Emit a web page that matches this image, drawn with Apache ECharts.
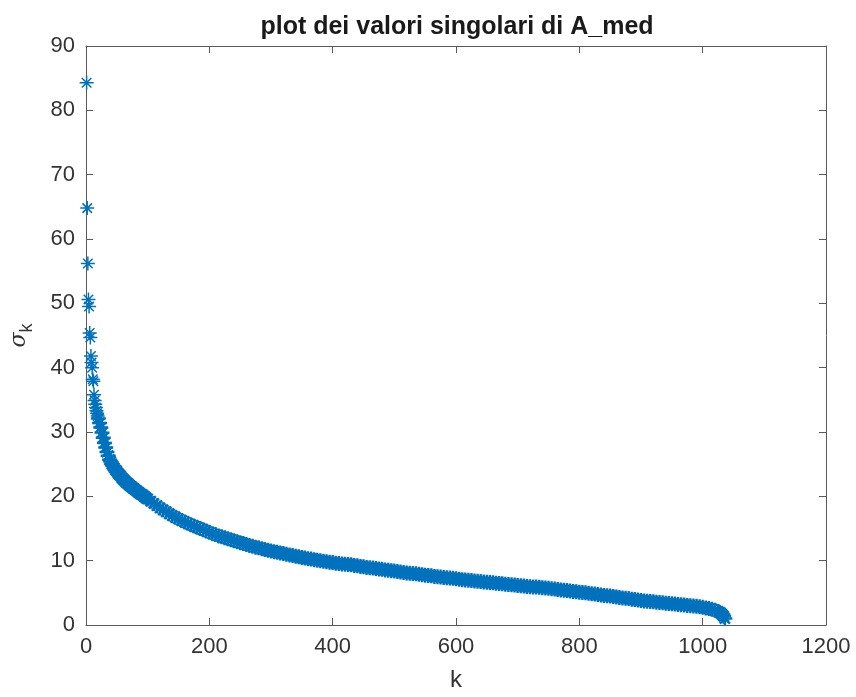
<!DOCTYPE html>
<html>
<head>
<meta charset="utf-8">
<script src="https://cdn.jsdelivr.net/npm/echarts@6/dist/echarts.min.js"></script>
<style>
  html, body { margin: 0; padding: 0; background: #fff; }
  #main { width: 856px; height: 697px; }
</style>
</head>
<body>
<div id="main"></div>
<script>
// indici k e valori singolari sigma_k
var kValues = [
  1, 2, 3, 4, 5, 6, 7, 8, 9, 10, 11, 12, 13, 14, 15, 16, 17, 18, 19,
  20, 22, 24, 26, 28, 30, 32, 34, 36, 38, 40, 42, 44, 46, 48, 50, 52, 54, 56, 58,
  60, 62, 64, 66, 68, 70, 72, 74, 76, 78, 80, 82, 84, 86, 88, 90, 92, 94, 96, 98,
  100, 105, 110, 115, 120, 125, 130, 135, 140, 145, 150, 155, 160, 165, 170, 175, 180, 185, 190, 195,
  200, 205, 210, 215, 220, 225, 230, 235, 240, 245, 250, 255, 260, 265, 270, 275, 280, 285, 290, 295,
  300, 305, 310, 315, 320, 325, 330, 335, 340, 345, 350, 355, 360, 365, 370, 375, 380, 385, 390, 395,
  400, 405, 410, 415, 420, 425, 430, 435, 440, 445, 450, 455, 460, 465, 470, 475, 480, 485, 490, 495,
  500, 505, 510, 515, 520, 525, 530, 535, 540, 545, 550, 555, 560, 565, 570, 575, 580, 585, 590, 595,
  600, 605, 610, 615, 620, 625, 630, 635, 640, 645, 650, 655, 660, 665, 670, 675, 680, 685, 690, 695,
  700, 705, 710, 715, 720, 725, 730, 735, 740, 745, 750, 755, 760, 765, 770, 775, 780, 785, 790, 795,
  800, 805, 810, 815, 820, 825, 830, 835, 840, 845, 850, 855, 860, 865, 870, 875, 880, 885, 890, 895,
  900, 905, 910, 915, 920, 925, 930, 935, 940, 945, 950, 955, 960, 965, 970, 975, 980, 985, 990, 995,
  1000, 1005, 1010, 1015, 1020, 1025, 1028, 1030, 1032, 1034, 1036
];
var sigmaValues = [
  84.3, 64.8, 56.2, 50.6, 49.5, 45.4, 44.7, 41.8, 40.8, 40.0, 38.2, 37.9, 35.8, 34.9, 34.3, 33.8, 33.3, 32.9, 32.5,
  32.1, 31.4, 30.7, 29.9, 29.1, 28.3, 27.6, 26.9, 26.3, 25.7, 25.4, 25.0, 24.7, 24.4, 24.1, 23.9, 23.6, 23.4, 23.2, 22.9,
  22.7, 22.5, 22.3, 22.1, 22.0, 21.8, 21.6, 21.5, 21.3, 21.2, 21.0, 20.9, 20.7, 20.6, 20.4, 20.3, 20.2, 20.0, 19.9, 19.7,
  19.6, 19.25, 18.9, 18.55, 18.2, 17.9, 17.6, 17.3, 17.0, 16.75, 16.5, 16.25, 16.0, 15.8, 15.6, 15.4, 15.2, 15.0, 14.8, 14.6,
  14.4, 14.2, 14.05, 13.85, 13.7, 13.55, 13.4, 13.25, 13.1, 12.95, 12.8, 12.65, 12.5, 12.35, 12.25, 12.1, 12.0, 11.85, 11.75, 11.6,
  11.5, 11.4, 11.3, 11.2, 11.1, 11.0, 10.9, 10.8, 10.7, 10.6, 10.5, 10.4, 10.3, 10.25, 10.15, 10.05, 10.0, 9.9, 9.85, 9.75,
  9.7, 9.6, 9.55, 9.5, 9.45, 9.4, 9.35, 9.25, 9.2, 9.1, 9.05, 8.95, 8.9, 8.85, 8.8, 8.7, 8.65, 8.55, 8.5, 8.45,
  8.4, 8.3, 8.25, 8.15, 8.1, 8.05, 8.0, 7.95, 7.9, 7.8, 7.75, 7.7, 7.65, 7.55, 7.5, 7.45, 7.4, 7.35, 7.3, 7.25,
  7.2, 7.1, 7.05, 7.0, 6.95, 6.9, 6.85, 6.8, 6.75, 6.7, 6.65, 6.6, 6.55, 6.5, 6.45, 6.4, 6.35, 6.3, 6.25, 6.2,
  6.15, 6.1, 6.05, 6.0, 5.95, 5.92, 5.9, 5.85, 5.8, 5.75, 5.7, 5.65, 5.6, 5.52, 5.45, 5.4, 5.35, 5.28, 5.2, 5.15,
  5.1, 5.05, 5.0, 4.92, 4.85, 4.8, 4.75, 4.68, 4.6, 4.55, 4.5, 4.42, 4.35, 4.28, 4.2, 4.15, 4.1, 4.02, 3.95, 3.88,
  3.8, 3.75, 3.7, 3.65, 3.6, 3.55, 3.5, 3.45, 3.4, 3.35, 3.3, 3.25, 3.2, 3.15, 3.1, 3.05, 3.0, 2.95, 2.9, 2.82,
  2.75, 2.65, 2.55, 2.45, 2.3, 2.1, 1.95, 1.8, 1.6, 1.35, 1.0
];
var xTicks = [0, 200, 400, 600, 800, 1000, 1200];
var yTicks = [0, 10, 20, 30, 40, 50, 60, 70, 80, 90];

var points = kValues.map(function (k, i) { return [k, sigmaValues[i]]; });
// i primi valori sono isolati, il resto forma una banda continua
var headPoints = points.filter(function (p) { return p[0] < 20; });
var tailPoints = points.filter(function (p) { return p[0] >= 20; });

var asterisk = 'path://M0,5L10,5M5,0L5,10M1.6,1.6L8.4,8.4M8.4,1.6L1.6,8.4';
var blue = '#0072BD';
var axisCol = '#5a5a5a';
var textCol = '#333333';
var font = 'Liberation Sans';

var chart = echarts.init(document.getElementById('main'));

function boxAxis(pos, ticks) {
  return {
    type: 'value',
    position: pos,
    min: ticks[0],
    max: ticks[ticks.length - 1],
    interval: ticks[1] - ticks[0],
    axisLine: { show: true, onZero: false, lineStyle: { color: axisCol, width: 1 } },
    axisTick: { show: true, inside: true, length: 7, lineStyle: { color: axisCol } },
    axisLabel: { show: false },
    splitLine: { show: false }
  };
}

var option = {
  animation: false,
  backgroundColor: '#ffffff',
  title: {
    text: 'plot dei valori singolari di A_med',
    left: 452,
    top: 10,
    textAlign: 'center',
    textStyle: { fontFamily: font, fontWeight: 'bold', fontSize: 25, color: '#1a1a1a' }
  },
  grid: { left: 85, right: 30, top: 46, bottom: 68 },
  xAxis: [
    {
      type: 'value',
      position: 'bottom',
      min: xTicks[0],
      max: xTicks[xTicks.length - 1],
      interval: xTicks[1] - xTicks[0],
      name: 'k',
      nameLocation: 'middle',
      nameGap: 43,
      nameTextStyle: { fontFamily: font, fontSize: 24, color: textCol },
      axisLine: { show: true, onZero: false, lineStyle: { color: axisCol, width: 1 } },
      axisTick: { show: true, inside: true, length: 7, lineStyle: { color: axisCol } },
      axisLabel: { margin: 11, fontFamily: font, fontSize: 22, color: textCol, formatter: function (v) { return String(v); } },
      splitLine: { show: false }
    },
    boxAxis('top', xTicks)
  ],
  yAxis: [
    {
      type: 'value',
      position: 'left',
      min: yTicks[0],
      max: yTicks[yTicks.length - 1],
      interval: yTicks[1] - yTicks[0],
      name: '{s|σ}{sub|k}',
      nameLocation: 'middle',
      nameRotate: 90,
      nameGap: 50,
      nameTextStyle: {
        color: textCol,
        rich: {
          s: { fontFamily: 'DejaVu Serif', fontStyle: 'italic', fontSize: 22, color: textCol, lineHeight: 34 },
          sub: { fontFamily: font, fontSize: 18, color: textCol, verticalAlign: 'bottom', lineHeight: 12 }
        }
      },
      axisLine: { show: true, onZero: false, lineStyle: { color: axisCol, width: 1 } },
      axisTick: { show: true, inside: true, length: 7, lineStyle: { color: axisCol } },
      axisLabel: { margin: 11, fontFamily: font, fontSize: 22, color: textCol },
      splitLine: { show: false }
    },
    boxAxis('right', yTicks)
  ],
  series: [
    {
      type: 'scatter',
      data: headPoints,
      symbol: asterisk,
      symbolSize: 14,
      itemStyle: { color: 'rgba(0,0,0,0)', borderColor: blue, borderWidth: 1.5, opacity: 1 },
      emphasis: { disabled: true }
    },
    {
      type: 'scatter',
      data: tailPoints,
      symbol: asterisk,
      symbolSize: 15,
      itemStyle: { color: 'rgba(0,0,0,0)', borderColor: blue, borderWidth: 2.4, opacity: 1 },
      emphasis: { disabled: true }
    }
  ]
};

chart.setOption(option);
</script>
</body>
</html>
